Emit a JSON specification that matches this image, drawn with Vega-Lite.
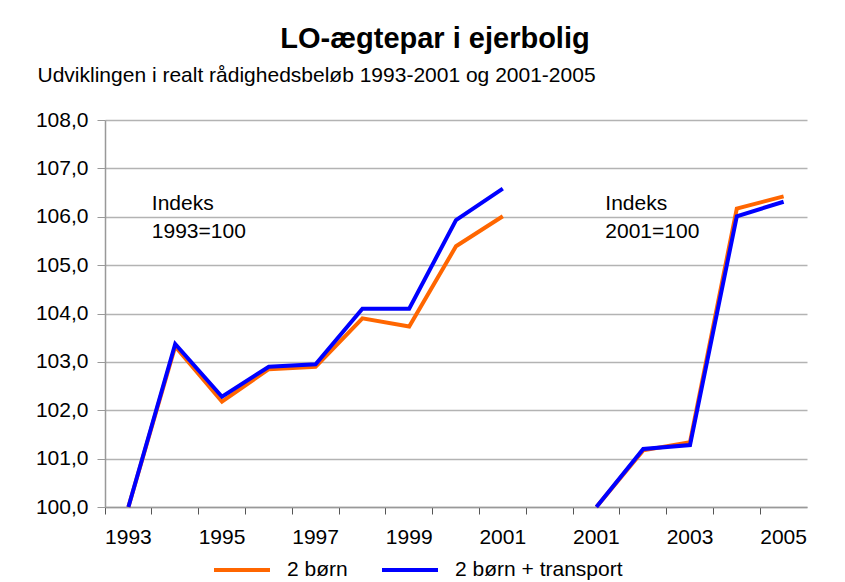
{
  "$schema": "https://vega.github.io/schema/vega-lite/v6.json",
  "width": 702,
  "height": 387,
  "autosize": "none",
  "padding": {"left": 105, "top": 120, "right": 38, "bottom": 75},
  "background": "white",
  "config": {
    "view": {"stroke": null},
    "font": "Liberation Sans",
    "axis": {"labelFont": "Liberation Sans", "titleFont": "Liberation Sans"},
    "legend": {"labelFont": "Liberation Sans"}
  },
  "title": {
    "text": "LO-ægtepar i ejerbolig",
    "font": "Liberation Sans",
    "fontSize": 29,
    "fontWeight": "bold",
    "color": "black",
    "anchor": "middle",
    "frame": "group",
    "dx": -21,
    "offset": 10
  },
  "datasets": {
    "series": [
      {"key": "a1993", "year": 1993, "base": "1993=100", "series": "2 børn", "value": 100},
      {"key": "a1994", "year": 1994, "base": "1993=100", "series": "2 børn", "value": 103.32},
      {"key": "a1995", "year": 1995, "base": "1993=100", "series": "2 børn", "value": 102.18},
      {"key": "a1996", "year": 1996, "base": "1993=100", "series": "2 børn", "value": 102.85},
      {"key": "a1997", "year": 1997, "base": "1993=100", "series": "2 børn", "value": 102.9},
      {"key": "a1998", "year": 1998, "base": "1993=100", "series": "2 børn", "value": 103.9},
      {"key": "a1999", "year": 1999, "base": "1993=100", "series": "2 børn", "value": 103.73},
      {"key": "a2000", "year": 2000, "base": "1993=100", "series": "2 børn", "value": 105.39},
      {"key": "a2001", "year": 2001, "base": "1993=100", "series": "2 børn", "value": 106.01},
      {"key": "b2001", "year": 2001, "base": "2001=100", "series": "2 børn", "value": 100},
      {"key": "b2002", "year": 2002, "base": "2001=100", "series": "2 børn", "value": 101.17},
      {"key": "b2003", "year": 2003, "base": "2001=100", "series": "2 børn", "value": 101.34},
      {"key": "b2004", "year": 2004, "base": "2001=100", "series": "2 børn", "value": 106.17},
      {"key": "b2005", "year": 2005, "base": "2001=100", "series": "2 børn", "value": 106.42},
      {"key": "a1993", "year": 1993, "base": "1993=100", "series": "2 børn + transport", "value": 100},
      {"key": "a1994", "year": 1994, "base": "1993=100", "series": "2 børn + transport", "value": 103.37},
      {"key": "a1995", "year": 1995, "base": "1993=100", "series": "2 børn + transport", "value": 102.28},
      {"key": "a1996", "year": 1996, "base": "1993=100", "series": "2 børn + transport", "value": 102.9},
      {"key": "a1997", "year": 1997, "base": "1993=100", "series": "2 børn + transport", "value": 102.95},
      {"key": "a1998", "year": 1998, "base": "1993=100", "series": "2 børn + transport", "value": 104.1},
      {"key": "a1999", "year": 1999, "base": "1993=100", "series": "2 børn + transport", "value": 104.1},
      {"key": "a2000", "year": 2000, "base": "1993=100", "series": "2 børn + transport", "value": 105.93},
      {"key": "a2001", "year": 2001, "base": "1993=100", "series": "2 børn + transport", "value": 106.58},
      {"key": "b2001", "year": 2001, "base": "2001=100", "series": "2 børn + transport", "value": 100},
      {"key": "b2002", "year": 2002, "base": "2001=100", "series": "2 børn + transport", "value": 101.2},
      {"key": "b2003", "year": 2003, "base": "2001=100", "series": "2 børn + transport", "value": 101.28},
      {"key": "b2004", "year": 2004, "base": "2001=100", "series": "2 børn + transport", "value": 106.01},
      {"key": "b2005", "year": 2005, "base": "2001=100", "series": "2 børn + transport", "value": 106.31}
    ],
    "notes": [
      {"key": "a1994", "value": 106.13, "label": ["Indeks", "1993=100"]},
      {"key": "b2001", "value": 106.13, "label": ["Indeks", "2001=100"]}
    ]
  },
  "layer": [
    {
      "data": {"name": "series"},
      "mark": {"type": "line", "strokeWidth": 4, "strokeJoin": "miter", "strokeCap": "butt"},
      "encoding": {
        "x": {
          "field": "key",
          "type": "nominal",
          "scale": {
            "type": "band",
            "domain": ["a1993", "a1994", "a1995", "a1996", "a1997", "a1998", "a1999", "a2000", "a2001", "gap", "b2001", "b2002", "b2003", "b2004", "b2005"],
            "paddingInner": 0,
            "paddingOuter": 0
          },
          "axis": {
            "title": null,
            "bandPosition": 0,
            "labelAngle": 0,
            "labelExpr": "indexof(['a1993','a1995','a1997','a1999','a2001','b2001','b2003','b2005'], datum.value) >= 0 ? substring(datum.value, 1) : ''",
            "labelFontSize": 21,
            "labelColor": "black",
            "labelPadding": 12,
            "labelBaseline": "top",
            "tickSize": 7,
            "tickColor": "#555555",
            "domainColor": "#999999",
            "domainWidth": 1.5,
            "grid": false
          }
        },
        "y": {
          "field": "value",
          "type": "quantitative",
          "scale": {"domain": [100, 108], "nice": false, "zero": false},
          "axis": {
            "values": [100, 101, 102, 103, 104, 105, 106, 107, 108],
            "labelExpr": "replace(format(datum.value, '.1f'), '.', ',')",
            "labelFontSize": 21,
            "labelColor": "black",
            "labelPadding": 9,
            "tickSize": 8,
            "tickColor": "#999999",
            "domainColor": "#999999",
            "domainWidth": 1.5,
            "grid": true,
            "gridColor": "#b3b3b3",
            "gridWidth": 1.5,
            "title": "Udviklingen i realt rådighedsbeløb 1993-2001 og 2001-2005",
            "titleAngle": 0,
            "titleAlign": "left",
            "titleBaseline": "alphabetic",
            "titleX": -68,
            "titleY": -39,
            "titleFontSize": 21,
            "titleFontWeight": "normal",
            "titleColor": "black",
            "titleLimit": 0
          }
        },
        "color": {
          "field": "series",
          "type": "nominal",
          "scale": {"domain": ["2 børn", "2 børn + transport"], "range": ["#FF6600", "#0000FF"]},
          "legend": {
            "title": null,
            "orient": "none",
            "direction": "horizontal",
            "legendX": 107,
            "legendY": 420,
            "symbolType": "stroke",
            "symbolSize": 3136,
            "symbolStrokeWidth": 4,
            "labelFontSize": 21,
            "labelColor": "black",
            "labelOffset": 15,
            "labelLimit": 0,
            "columnPadding": 26
          }
        },
        "detail": {"field": "base", "type": "nominal"}
      }
    },
    {
      "data": {"name": "notes"},
      "transform": [{"filter": "datum.key === 'a1994'"}],
      "mark": {"type": "text", "align": "left", "baseline": "alphabetic", "fontSize": 21, "lineHeight": 28, "color": "black"},
      "encoding": {
        "x": {"field": "key", "type": "nominal", "bandPosition": 0},
        "y": {"field": "value", "type": "quantitative"},
        "text": {"field": "label"}
      }
    },
    {
      "data": {"name": "notes"},
      "transform": [{"filter": "datum.key === 'b2001'"}],
      "mark": {"type": "text", "align": "left", "baseline": "alphabetic", "fontSize": 21, "lineHeight": 28, "color": "black"},
      "encoding": {
        "x": {"field": "key", "type": "nominal", "bandPosition": 0.69},
        "y": {"field": "value", "type": "quantitative"},
        "text": {"field": "label"}
      }
    }
  ]
}
